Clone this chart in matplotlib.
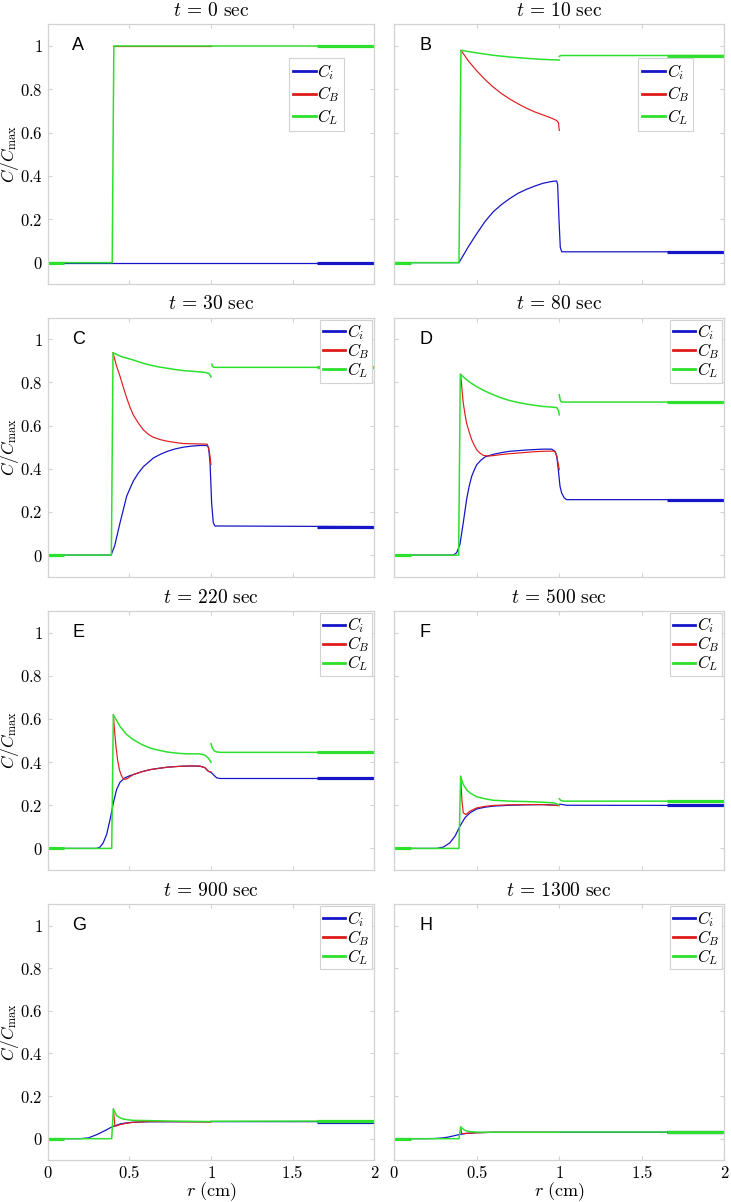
import numpy as np
import matplotlib
matplotlib.use("Agg")
import matplotlib.pyplot as plt
from matplotlib.ticker import FuncFormatter

plt.rcParams['mathtext.fontset'] = 'cm'
plt.rcParams['font.family'] = ['DejaVu Serif']

# ---------------- data ----------------
times = [0, 10, 30, 80, 220, 500, 900, 1300]
letters = ['A', 'B', 'C', 'D', 'E', 'F', 'G', 'H']

# Panel A, t = 0
ci_r_A = [0, 2]
ci_v_A = [0, 0]
cb_r_A = [0.4, 1.0]
cb_v_A = [1, 1]
cl_in_r_A = [0, 0.395, 0.405, 1.0]
cl_in_v_A = [0, 0, 1, 1]
cl_out_r_A = [1.0, 2]
cl_out_v_A = [1, 1]

# Panel B, t = 10
ci_r_B = [0, 0.392, 0.45, 0.5, 0.55, 0.6, 0.65, 0.7, 0.75, 0.8, 0.85, 0.9, 0.95, 0.984, 0.99, 0.998, 1.006, 1.015, 2]
ci_v_B = [0, 0, 0.075, 0.134, 0.19, 0.235, 0.268, 0.296, 0.32, 0.338, 0.353, 0.366, 0.374, 0.377, 0.36, 0.2, 0.07, 0.05, 0.05]
cb_r_B = [0.404, 0.45, 0.5, 0.55, 0.6, 0.65, 0.7, 0.75, 0.8, 0.85, 0.9, 0.95, 0.984, 0.995, 1.0]
cb_v_B = [0.98, 0.93, 0.885, 0.845, 0.81, 0.78, 0.755, 0.733, 0.713, 0.696, 0.682, 0.668, 0.656, 0.645, 0.61]
cl_in_r_B = [0, 0.392, 0.404, 0.5, 0.6, 0.7, 0.8, 0.9, 1.0]
cl_in_v_B = [0, 0, 0.98, 0.968, 0.957, 0.949, 0.943, 0.938, 0.935]
cl_out_r_B = [1.0, 1.01, 2]
cl_out_v_B = [0.952, 0.956, 0.956]

# Panel C, t = 30
ci_r_C = [0, 0.388, 0.41, 0.443, 0.484, 0.524, 0.555, 0.586, 0.62, 0.647, 0.69, 0.73, 0.78, 0.83, 0.88, 0.933, 0.973, 0.985, 0.994, 1.004, 1.014, 1.024, 2]
ci_v_C = [0, 0, 0.043, 0.15, 0.274, 0.343, 0.38, 0.41, 0.432, 0.45, 0.467, 0.48, 0.492, 0.5, 0.505, 0.508, 0.508, 0.5, 0.43, 0.24, 0.15, 0.135, 0.132]
cb_r_C = [0.40, 0.42, 0.443, 0.464, 0.484, 0.504, 0.524, 0.555, 0.586, 0.62, 0.647, 0.69, 0.73, 0.78, 0.83, 0.88, 0.933, 0.977, 0.99, 1.0]
cb_v_C = [0.938, 0.88, 0.828, 0.775, 0.728, 0.685, 0.65, 0.612, 0.58, 0.558, 0.546, 0.535, 0.528, 0.522, 0.517, 0.516, 0.515, 0.514, 0.48, 0.42]
cl_in_r_C = [0, 0.39, 0.40, 0.45, 0.52, 0.58, 0.63, 0.68, 0.73, 0.78, 0.83, 0.88, 0.93, 0.97, 0.99, 1.0]
cl_in_v_C = [0, 0, 0.938, 0.92, 0.905, 0.89, 0.88, 0.872, 0.866, 0.86, 0.855, 0.852, 0.849, 0.846, 0.84, 0.825]
cl_out_r_C = [1.005, 1.008, 1.015, 1.03, 2]
cl_out_v_C = [0.885, 0.875, 0.871, 0.870, 0.870]

# Panel D, t = 80
ci_r_D = [0, 0.358, 0.378, 0.398, 0.418, 0.438, 0.454, 0.469, 0.485, 0.5, 0.525, 0.55, 0.6, 0.65, 0.7, 0.75, 0.8, 0.85, 0.9, 0.954, 0.975, 0.985, 0.994, 1.004, 1.014, 1.03, 1.044, 2]
ci_v_D = [0, 0, 0.011, 0.05, 0.15, 0.257, 0.32, 0.365, 0.395, 0.419, 0.44, 0.455, 0.467, 0.475, 0.481, 0.484, 0.487, 0.489, 0.491, 0.491, 0.48, 0.455, 0.396, 0.32, 0.288, 0.265, 0.257, 0.257]
cb_r_D = [0.402, 0.41, 0.418, 0.428, 0.438, 0.454, 0.469, 0.485, 0.5, 0.52, 0.54, 0.57, 0.6, 0.65, 0.7, 0.75, 0.8, 0.85, 0.9, 0.964, 0.975, 0.985, 1.0]
cb_v_D = [0.838, 0.77, 0.704, 0.655, 0.612, 0.57, 0.535, 0.508, 0.488, 0.472, 0.462, 0.459, 0.461, 0.466, 0.47, 0.473, 0.476, 0.479, 0.481, 0.482, 0.478, 0.458, 0.396]
cl_in_r_D = [0, 0.39, 0.40, 0.45, 0.5, 0.55, 0.6, 0.65, 0.7, 0.75, 0.8, 0.85, 0.9, 0.95, 0.984, 0.995, 1.0]
cl_in_v_D = [0, 0, 0.838, 0.805, 0.78, 0.76, 0.743, 0.728, 0.716, 0.707, 0.7, 0.694, 0.689, 0.686, 0.684, 0.67, 0.65]
cl_out_r_D = [1.0, 1.005, 1.012, 1.025, 2]
cl_out_v_D = [0.743, 0.72, 0.71, 0.709, 0.709]

# Panel E, t = 220
ci_r_E = [0, 0.3, 0.32, 0.34, 0.361, 0.382, 0.402, 0.422, 0.443, 0.473, 0.5, 0.524, 0.575, 0.627, 0.68, 0.729, 0.78, 0.83, 0.88, 0.933, 0.963, 0.984, 1.0, 1.014, 1.035, 1.055, 2]
ci_v_E = [0, 0, 0.006, 0.026, 0.065, 0.134, 0.211, 0.273, 0.307, 0.327, 0.336, 0.342, 0.355, 0.365, 0.371, 0.376, 0.379, 0.381, 0.382, 0.381, 0.374, 0.357, 0.353, 0.342, 0.327, 0.324, 0.324]
cb_r_E = [0.402, 0.41, 0.418, 0.428, 0.439, 0.45, 0.463, 0.478, 0.494, 0.51, 0.524, 0.575, 0.627, 0.68, 0.729, 0.78, 0.83, 0.88, 0.933, 0.963, 0.984, 1.0]
cb_v_E = [0.619, 0.54, 0.473, 0.41, 0.365, 0.34, 0.322, 0.32, 0.327, 0.335, 0.342, 0.355, 0.365, 0.371, 0.376, 0.379, 0.381, 0.382, 0.381, 0.374, 0.357, 0.354]
cl_in_r_E = [0, 0.392, 0.402, 0.443, 0.48, 0.524, 0.575, 0.627, 0.68, 0.729, 0.78, 0.83, 0.88, 0.933, 0.963, 0.984, 1.0]
cl_in_v_E = [0, 0, 0.619, 0.565, 0.53, 0.504, 0.482, 0.465, 0.455, 0.447, 0.442, 0.439, 0.438, 0.438, 0.432, 0.418, 0.399]
cl_out_r_E = [1.0, 1.008, 1.02, 1.035, 1.06, 2]
cl_out_v_E = [0.485, 0.465, 0.452, 0.447, 0.445, 0.445]

# Panel F, t = 500
ci_r_F = [0, 0.256, 0.297, 0.337, 0.368, 0.398, 0.428, 0.459, 0.5, 0.55, 0.6, 0.7, 0.8, 0.9, 0.984, 1.004, 1.044, 2]
ci_v_F = [0, 0, 0.006, 0.026, 0.057, 0.103, 0.142, 0.165, 0.183, 0.191, 0.196, 0.2, 0.202, 0.203, 0.2, 0.205, 0.2, 0.199]
cb_r_F = [0.402, 0.41, 0.418, 0.434, 0.459, 0.5, 0.55, 0.6, 0.7, 0.8, 0.9, 0.984, 1.0]
cb_v_F = [0.334, 0.22, 0.165, 0.157, 0.173, 0.188, 0.195, 0.199, 0.202, 0.203, 0.203, 0.199, 0.198]
cl_in_r_F = [0, 0.392, 0.402, 0.418, 0.44, 0.459, 0.5, 0.55, 0.6, 0.7, 0.8, 0.9, 0.964, 0.99, 1.0]
cl_in_v_F = [0, 0, 0.334, 0.296, 0.27, 0.257, 0.239, 0.23, 0.223, 0.219, 0.217, 0.214, 0.211, 0.205, 0.2]
cl_out_r_F = [1.0, 1.01, 1.025, 2]
cl_out_v_F = [0.23, 0.222, 0.219, 0.219]

# Panel G, t = 900
ci_r_G = [0, 0.2, 0.25, 0.3, 0.33, 0.361, 0.38, 0.402, 0.443, 0.48, 0.524, 0.6, 1.0, 2]
ci_v_G = [0, 0, 0.004, 0.019, 0.03, 0.042, 0.05, 0.058, 0.069, 0.074, 0.077, 0.079, 0.08, 0.08]
cb_r_G = [0.402, 0.412, 0.43, 0.443, 0.48, 0.524, 0.6, 0.627, 0.8, 1.0]
cb_v_G = [0.139, 0.058, 0.062, 0.066, 0.072, 0.077, 0.08, 0.081, 0.08, 0.078]
cl_in_r_G = [0, 0.392, 0.402, 0.422, 0.443, 0.463, 0.5, 0.524, 0.6, 0.729, 1.0]
cl_in_v_G = [0, 0, 0.139, 0.108, 0.098, 0.092, 0.088, 0.086, 0.085, 0.083, 0.08]
cl_out_r_G = [1.0, 2]
cl_out_v_G = [0.082, 0.083]

# Panel H, t = 1300
ci_r_H = [0, 0.196, 0.25, 0.297, 0.33, 0.358, 0.38, 0.398, 0.438, 0.5, 0.6, 2]
ci_v_H = [0, 0, 0.001, 0.004, 0.008, 0.013, 0.017, 0.02, 0.025, 0.028, 0.03, 0.03]
cb_r_H = [0.402, 0.408, 0.438, 0.5, 0.6, 1.0]
cb_v_H = [0.055, 0.024, 0.025, 0.028, 0.03, 0.03]
cl_in_r_H = [0, 0.392, 0.402, 0.428, 0.459, 0.5, 0.6, 1.0]
cl_in_v_H = [0, 0, 0.055, 0.039, 0.033, 0.031, 0.03, 0.03]
cl_out_r_H = [1.0, 2]
cl_out_v_H = [0.031, 0.031]

# boundary segments drawn thicker
bc_left_r = [0, 0.1]
bc_right_r = [1.65, 2]

xticks = [0, 0.5, 1, 1.5, 2]
yticks = [0, 0.2, 0.4, 0.6, 0.8, 1]

panels = {
    'A': (ci_r_A, ci_v_A, cb_r_A, cb_v_A, cl_in_r_A, cl_in_v_A, cl_out_r_A, cl_out_v_A),
    'B': (ci_r_B, ci_v_B, cb_r_B, cb_v_B, cl_in_r_B, cl_in_v_B, cl_out_r_B, cl_out_v_B),
    'C': (ci_r_C, ci_v_C, cb_r_C, cb_v_C, cl_in_r_C, cl_in_v_C, cl_out_r_C, cl_out_v_C),
    'D': (ci_r_D, ci_v_D, cb_r_D, cb_v_D, cl_in_r_D, cl_in_v_D, cl_out_r_D, cl_out_v_D),
    'E': (ci_r_E, ci_v_E, cb_r_E, cb_v_E, cl_in_r_E, cl_in_v_E, cl_out_r_E, cl_out_v_E),
    'F': (ci_r_F, ci_v_F, cb_r_F, cb_v_F, cl_in_r_F, cl_in_v_F, cl_out_r_F, cl_out_v_F),
    'G': (ci_r_G, ci_v_G, cb_r_G, cb_v_G, cl_in_r_G, cl_in_v_G, cl_out_r_G, cl_out_v_G),
    'H': (ci_r_H, ci_v_H, cb_r_H, cb_v_H, cl_in_r_H, cl_in_v_H, cl_out_r_H, cl_out_v_H),
}

# ---------------- styling ----------------
BLUE = '#1616c8'
RED = '#e01c1c'
GREEN = '#2ee02e'
GREY = '#d2d2d2'

W, H = 731, 1202
fig = plt.figure(figsize=(W / 100, H / 100), dpi=100)

col_x = [(47.7, 326.6), (394.3, 330.0)]
row_y = [(24.3, 284.3), (317.7, 576.7), (611.0, 870.0), (904.3, 1160.0)]

fmt = FuncFormatter(lambda v, p: '$%g$' % v)

for idx, L in enumerate(letters):
    row, col = divmod(idx, 2)
    x0, w = col_x[col]
    top, bot = row_y[row]
    ax = fig.add_axes([x0 / W, 1 - bot / H, w / W, (bot - top) / H])
    ci_r, ci_v, cb_r, cb_v, cli_r, cli_v, clo_r, clo_v = panels[L]

    ax.plot(ci_r, ci_v, color=BLUE, lw=0.9, label='$C_i$')
    ax.plot(cb_r, cb_v, color=RED, lw=0.85, label='$C_B$')
    ax.plot(cli_r, cli_v, color=GREEN, lw=1.1, label='$C_L$')
    ax.plot(clo_r, clo_v, color=GREEN, lw=1.1)
    # thicker boundary segments
    ax.plot(bc_left_r, [cli_v[0]] * 2, color=GREEN, lw=2.3, solid_capstyle='butt')
    ax.plot(bc_right_r, [ci_v[-1]] * 2, color=BLUE, lw=2.3, solid_capstyle='butt')
    ax.plot(bc_right_r, [clo_v[-1]] * 2, color=GREEN, lw=2.3, solid_capstyle='butt')

    ax.set_xlim(0, 2)
    ax.set_ylim(-0.1, 1.1)
    ax.set_xticks(xticks)
    ax.set_yticks(yticks)
    ax.xaxis.set_major_formatter(fmt)
    ax.yaxis.set_major_formatter(fmt)
    ax.tick_params(direction='in', length=3, width=0.8, color=GREY,
                   top=True, right=True, labelsize=12, pad=3.5)
    for s in ax.spines.values():
        s.set_color(GREY)
        s.set_linewidth(0.9)
    if row != 3:
        ax.tick_params(labelbottom=False)
    else:
        ax.set_xlabel(r'$r\ \mathrm{(cm)}$', fontsize=13)
        ax.xaxis.set_label_coords(0.5, -0.08)
    if col != 0:
        ax.tick_params(labelleft=False)
    else:
        ax.set_ylabel(r'$C/C_{\max}$', fontsize=12.5)
        ax.yaxis.set_label_coords(-0.082, 0.5)

    ax.set_title(r'$t\,=\,%d\ \mathrm{sec}$' % times[idx], fontsize=14, pad=6)
    ax.text(0.15, 1.0, L, fontsize=13, family='Liberation Sans',
            ha='left', va='center')

    if L in ('A', 'B'):
        leg = ax.legend(loc='upper left', bbox_to_anchor=(0.739, 0.87),
                        borderaxespad=0, fontsize=12, labelspacing=0.15,
                        handlelength=1.35, handletextpad=0.1, borderpad=0.25,
                        fancybox=False, framealpha=1)
    else:
        leg = ax.legend(loc='upper right', bbox_to_anchor=(1.0, 1.0),
                        borderaxespad=0.12, fontsize=12, labelspacing=-0.05,
                        handlelength=1.35, handletextpad=0.1, borderpad=0.15,
                        fancybox=False, framealpha=1)
    leg.get_frame().set_edgecolor(GREY)
    leg.get_frame().set_linewidth(0.8)
    for lh in leg.get_lines():
        lh.set_linewidth(2.0)

fig.savefig('out.png', dpi=100)
